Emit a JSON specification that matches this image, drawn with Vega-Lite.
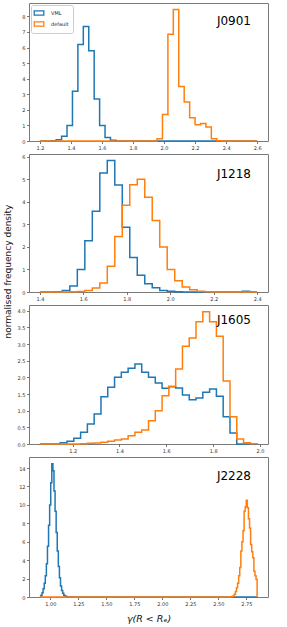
{
  "$schema": "https://vega.github.io/schema/vega-lite/v6.json",
  "padding": {"left": 2, "top": 2, "right": 2, "bottom": 2},
  "background": "white",
  "spacing": 13,
  "bounds": "flush",
  "resolve": {"scale": {"color": "independent", "x": "independent", "y": "independent"}, "legend": {"color": "independent"}},
  "config": {
    "font": "DejaVu Sans",
    "view": {"stroke": "#7a7a7a", "strokeWidth": 1},
    "axis": {"domain": false, "grid": false, "labelFont": "DejaVu Sans", "labelFontSize": 5, "labelColor": "#333333", "tickColor": "#555555", "tickSize": 2.5, "tickWidth": 0.8, "labelPadding": 1.5, "titleFont": "DejaVu Sans", "titleFontWeight": "normal", "titleColor": "#111111"},
    "title": {"font": "DejaVu Sans", "fontWeight": "normal", "fontSize": 12, "color": "#000000", "anchor": "end", "frame": "group", "baseline": "alphabetic", "dx": -17}
  },
  "datasets": {
    "J0901": [
      {"s": "VML", "x": 1.2, "y": 0}, {"s": "VML", "x": 1.27, "y": 0.02}, {"s": "VML", "x": 1.305, "y": 0.08}, {"s": "VML", "x": 1.34, "y": 0.3}, {"s": "VML", "x": 1.375, "y": 1.0}, {"s": "VML", "x": 1.41, "y": 3.2}, {"s": "VML", "x": 1.445, "y": 6.2}, {"s": "VML", "x": 1.48, "y": 7.35}, {"s": "VML", "x": 1.515, "y": 5.8}, {"s": "VML", "x": 1.55, "y": 2.7}, {"s": "VML", "x": 1.585, "y": 1.0}, {"s": "VML", "x": 1.62, "y": 0.22}, {"s": "VML", "x": 1.655, "y": 0.05}, {"s": "VML", "x": 1.69, "y": 0}, {"s": "VML", "x": 2.6, "y": 0},
      {"s": "default", "x": 1.2, "y": 0}, {"s": "default", "x": 1.955, "y": 0.15}, {"s": "default", "x": 1.99, "y": 1.7}, {"s": "default", "x": 2.025, "y": 6.85}, {"s": "default", "x": 2.06, "y": 8.44}, {"s": "default", "x": 2.095, "y": 3.5}, {"s": "default", "x": 2.13, "y": 2.5}, {"s": "default", "x": 2.165, "y": 1.5}, {"s": "default", "x": 2.2, "y": 1.05}, {"s": "default", "x": 2.235, "y": 1.12}, {"s": "default", "x": 2.27, "y": 0.9}, {"s": "default", "x": 2.305, "y": 0.15}, {"s": "default", "x": 2.34, "y": 0.02}, {"s": "default", "x": 2.375, "y": 0}, {"s": "default", "x": 2.6, "y": 0}
    ],
    "J1218": [
      {"s": "VML", "x": 1.4, "y": 0}, {"s": "VML", "x": 1.469, "y": 0.01}, {"s": "VML", "x": 1.5034, "y": 0.07}, {"s": "VML", "x": 1.5379, "y": 0.27}, {"s": "VML", "x": 1.5724, "y": 1.0}, {"s": "VML", "x": 1.6069, "y": 2.27}, {"s": "VML", "x": 1.6414, "y": 3.58}, {"s": "VML", "x": 1.6759, "y": 5.28}, {"s": "VML", "x": 1.7103, "y": 5.83}, {"s": "VML", "x": 1.7448, "y": 4.75}, {"s": "VML", "x": 1.7793, "y": 2.87}, {"s": "VML", "x": 1.8138, "y": 1.53}, {"s": "VML", "x": 1.8483, "y": 0.74}, {"s": "VML", "x": 1.8828, "y": 0.37}, {"s": "VML", "x": 1.9172, "y": 0.19}, {"s": "VML", "x": 1.9517, "y": 0.07}, {"s": "VML", "x": 1.9862, "y": 0.03}, {"s": "VML", "x": 2.0207, "y": 0.01}, {"s": "VML", "x": 2.0552, "y": 0}, {"s": "VML", "x": 2.331, "y": 0.03}, {"s": "VML", "x": 2.3655, "y": 0}, {"s": "VML", "x": 2.4, "y": 0},
      {"s": "default", "x": 1.4, "y": 0}, {"s": "default", "x": 1.5379, "y": 0.01}, {"s": "default", "x": 1.5724, "y": 0.02}, {"s": "default", "x": 1.6069, "y": 0.07}, {"s": "default", "x": 1.6414, "y": 0.18}, {"s": "default", "x": 1.6759, "y": 0.4}, {"s": "default", "x": 1.7103, "y": 1.14}, {"s": "default", "x": 1.7448, "y": 2.46}, {"s": "default", "x": 1.7793, "y": 3.85}, {"s": "default", "x": 1.8138, "y": 4.76}, {"s": "default", "x": 1.8483, "y": 5.0}, {"s": "default", "x": 1.8828, "y": 4.2}, {"s": "default", "x": 1.9172, "y": 3.17}, {"s": "default", "x": 1.9517, "y": 2.0}, {"s": "default", "x": 1.9862, "y": 1.0}, {"s": "default", "x": 2.0207, "y": 0.5}, {"s": "default", "x": 2.0552, "y": 0.22}, {"s": "default", "x": 2.0897, "y": 0.1}, {"s": "default", "x": 2.1241, "y": 0.03}, {"s": "default", "x": 2.1586, "y": 0.01}, {"s": "default", "x": 2.1931, "y": 0}, {"s": "default", "x": 2.4, "y": 0}
    ],
    "J1605": [
      {"s": "VML", "x": 1.06, "y": 0}, {"s": "VML", "x": 1.147, "y": 0.04}, {"s": "VML", "x": 1.176, "y": 0.08}, {"s": "VML", "x": 1.205, "y": 0.17}, {"s": "VML", "x": 1.234, "y": 0.35}, {"s": "VML", "x": 1.263, "y": 0.6}, {"s": "VML", "x": 1.292, "y": 0.9}, {"s": "VML", "x": 1.321, "y": 1.42}, {"s": "VML", "x": 1.35, "y": 1.7}, {"s": "VML", "x": 1.379, "y": 2.0}, {"s": "VML", "x": 1.408, "y": 2.15}, {"s": "VML", "x": 1.437, "y": 2.27}, {"s": "VML", "x": 1.466, "y": 2.4}, {"s": "VML", "x": 1.495, "y": 2.15}, {"s": "VML", "x": 1.524, "y": 2.0}, {"s": "VML", "x": 1.553, "y": 1.83}, {"s": "VML", "x": 1.582, "y": 1.67}, {"s": "VML", "x": 1.611, "y": 1.72}, {"s": "VML", "x": 1.64, "y": 1.68}, {"s": "VML", "x": 1.669, "y": 1.47}, {"s": "VML", "x": 1.698, "y": 1.33}, {"s": "VML", "x": 1.727, "y": 1.38}, {"s": "VML", "x": 1.756, "y": 1.55}, {"s": "VML", "x": 1.785, "y": 1.65}, {"s": "VML", "x": 1.814, "y": 1.43}, {"s": "VML", "x": 1.843, "y": 0.82}, {"s": "VML", "x": 1.872, "y": 0.33}, {"s": "VML", "x": 1.901, "y": 0}, {"s": "VML", "x": 1.988, "y": 0},
      {"s": "default", "x": 1.06, "y": 0}, {"s": "default", "x": 1.234, "y": 0.01}, {"s": "default", "x": 1.263, "y": 0.02}, {"s": "default", "x": 1.292, "y": 0.03}, {"s": "default", "x": 1.321, "y": 0.05}, {"s": "default", "x": 1.35, "y": 0.08}, {"s": "default", "x": 1.379, "y": 0.12}, {"s": "default", "x": 1.408, "y": 0.15}, {"s": "default", "x": 1.437, "y": 0.25}, {"s": "default", "x": 1.466, "y": 0.35}, {"s": "default", "x": 1.495, "y": 0.42}, {"s": "default", "x": 1.524, "y": 0.7}, {"s": "default", "x": 1.553, "y": 1.0}, {"s": "default", "x": 1.582, "y": 1.45}, {"s": "default", "x": 1.611, "y": 1.73}, {"s": "default", "x": 1.64, "y": 2.25}, {"s": "default", "x": 1.669, "y": 2.93}, {"s": "default", "x": 1.698, "y": 3.18}, {"s": "default", "x": 1.727, "y": 3.67}, {"s": "default", "x": 1.756, "y": 3.97}, {"s": "default", "x": 1.785, "y": 3.67}, {"s": "default", "x": 1.814, "y": 3.23}, {"s": "default", "x": 1.843, "y": 1.89}, {"s": "default", "x": 1.872, "y": 0.82}, {"s": "default", "x": 1.901, "y": 0.15}, {"s": "default", "x": 1.93, "y": 0.04}, {"s": "default", "x": 1.959, "y": 0.01}, {"s": "default", "x": 1.988, "y": 0}
    ],
    "J2228": [
      {"s": "VML", "x": 0.907, "y": 0.05}, {"s": "VML", "x": 0.9167, "y": 0.2}, {"s": "VML", "x": 0.9264, "y": 0.45}, {"s": "VML", "x": 0.9361, "y": 0.9}, {"s": "VML", "x": 0.9458, "y": 1.5}, {"s": "VML", "x": 0.9555, "y": 2.3}, {"s": "VML", "x": 0.9652, "y": 3.6}, {"s": "VML", "x": 0.9749, "y": 5.5}, {"s": "VML", "x": 0.9846, "y": 7.8}, {"s": "VML", "x": 0.9943, "y": 10.0}, {"s": "VML", "x": 1.004, "y": 12.4}, {"s": "VML", "x": 1.0137, "y": 14.48}, {"s": "VML", "x": 1.0234, "y": 13.7}, {"s": "VML", "x": 1.0331, "y": 11.5}, {"s": "VML", "x": 1.0428, "y": 9.3}, {"s": "VML", "x": 1.0525, "y": 7.0}, {"s": "VML", "x": 1.0622, "y": 5.0}, {"s": "VML", "x": 1.0719, "y": 3.3}, {"s": "VML", "x": 1.0816, "y": 2.1}, {"s": "VML", "x": 1.0913, "y": 1.2}, {"s": "VML", "x": 1.101, "y": 0.7}, {"s": "VML", "x": 1.1107, "y": 0.4}, {"s": "VML", "x": 1.1204, "y": 0.2}, {"s": "VML", "x": 1.1301, "y": 0.1}, {"s": "VML", "x": 1.1398, "y": 0.05}, {"s": "VML", "x": 1.1495, "y": 0.02}, {"s": "VML", "x": 1.1592, "y": 0}, {"s": "VML", "x": 2.847, "y": 0},
      {"s": "default", "x": 0.907, "y": 0}, {"s": "default", "x": 2.6045, "y": 0.02}, {"s": "default", "x": 2.6142, "y": 0.04}, {"s": "default", "x": 2.6239, "y": 0.07}, {"s": "default", "x": 2.6336, "y": 0.1}, {"s": "default", "x": 2.6433, "y": 0.3}, {"s": "default", "x": 2.653, "y": 0.6}, {"s": "default", "x": 2.6627, "y": 1.0}, {"s": "default", "x": 2.6724, "y": 1.5}, {"s": "default", "x": 2.6821, "y": 2.3}, {"s": "default", "x": 2.6918, "y": 3.2}, {"s": "default", "x": 2.7015, "y": 5.0}, {"s": "default", "x": 2.7112, "y": 6.0}, {"s": "default", "x": 2.7209, "y": 7.2}, {"s": "default", "x": 2.7306, "y": 9.3}, {"s": "default", "x": 2.7403, "y": 9.8}, {"s": "default", "x": 2.75, "y": 10.5}, {"s": "default", "x": 2.7597, "y": 9.7}, {"s": "default", "x": 2.7694, "y": 8.5}, {"s": "default", "x": 2.7791, "y": 7.5}, {"s": "default", "x": 2.7888, "y": 5.7}, {"s": "default", "x": 2.7985, "y": 4.9}, {"s": "default", "x": 2.8082, "y": 4.25}, {"s": "default", "x": 2.8179, "y": 2.8}, {"s": "default", "x": 2.8276, "y": 2.3}, {"s": "default", "x": 2.8373, "y": 1.9}, {"s": "default", "x": 2.847, "y": 0}
    ]
  },
  "vconcat": [
    {
      "width": 239, "height": 138,
      "title": {"text": "J0901", "offset": -25},
      "data": {"name": "J0901"},
      "mark": {"type": "line", "interpolate": "step-after", "strokeWidth": 1.5},
      "encoding": {
        "x": {"field": "x", "type": "quantitative", "scale": {"domain": [1.13, 2.67], "nice": false, "zero": false}, "axis": {"values": [1.2, 1.4, 1.6, 1.8, 2.0, 2.2, 2.4, 2.6], "format": ".1f", "title": null}},
        "y": {"field": "y", "type": "quantitative", "scale": {"domain": [0, 8.86], "nice": false}, "axis": {"values": [0, 1, 2, 3, 4, 5, 6, 7, 8], "format": "d", "title": null}},
        "color": {"field": "s", "type": "nominal", "scale": {"domain": ["VML", "default"], "range": ["#1f77b4", "#ff7f0e"]},
          "legend": {"title": null, "orient": "top-left", "offset": 2, "padding": 4, "fillColor": "white", "strokeColor": "#cccccc", "cornerRadius": 2, "symbolType": "M-1.6,-0.7H1.6V0.7H-1.6Z", "symbolSize": 36, "symbolStrokeWidth": 1.3, "labelFontSize": 5, "labelFont": "DejaVu Sans", "labelOffset": 8, "rowPadding": 1, "labelColor": "#222222"}}
      }
    },
    {
      "width": 239, "height": 138,
      "title": {"text": "J1218", "offset": -27},
      "data": {"name": "J1218"},
      "mark": {"type": "line", "interpolate": "step-after", "strokeWidth": 1.5},
      "encoding": {
        "x": {"field": "x", "type": "quantitative", "scale": {"domain": [1.35, 2.45], "nice": false, "zero": false}, "axis": {"values": [1.4, 1.6, 1.8, 2.0, 2.2, 2.4], "format": ".1f", "title": null}},
        "y": {"field": "y", "type": "quantitative", "scale": {"domain": [0, 6.12], "nice": false}, "axis": {"values": [0, 1, 2, 3, 4, 5, 6], "format": "d", "title": "normalised frequency density", "titleFontSize": 9, "titleX": -17, "titleY": 117, "titleAngle": 270, "titleBaseline": "bottom", "titleAlign": "center"}},
        "color": {"field": "s", "type": "nominal", "scale": {"domain": ["VML", "default"], "range": ["#1f77b4", "#ff7f0e"]}, "legend": null}
      }
    },
    {
      "width": 239, "height": 139,
      "title": {"text": "J1605", "offset": -22},
      "data": {"name": "J1605"},
      "mark": {"type": "line", "interpolate": "step-after", "strokeWidth": 1.5},
      "encoding": {
        "x": {"field": "x", "type": "quantitative", "scale": {"domain": [1.0136, 2.0344], "nice": false, "zero": false}, "axis": {"values": [1.2, 1.4, 1.6, 1.8, 2.0], "format": ".1f", "title": null}},
        "y": {"field": "y", "type": "quantitative", "scale": {"domain": [0, 4.17], "nice": false}, "axis": {"values": [0, 0.5, 1, 1.5, 2, 2.5, 3, 3.5, 4], "format": ".1f", "title": null}},
        "color": {"field": "s", "type": "nominal", "scale": {"domain": ["VML", "default"], "range": ["#1f77b4", "#ff7f0e"]}, "legend": null}
      }
    },
    {
      "width": 239, "height": 140,
      "title": {"text": "J2228", "offset": -26},
      "data": {"name": "J2228"},
      "mark": {"type": "line", "interpolate": "step-after", "strokeWidth": 1.5},
      "encoding": {
        "x": {"field": "x", "type": "quantitative", "scale": {"domain": [0.81, 2.944], "nice": false, "zero": false}, "axis": {"values": [1.0, 1.25, 1.5, 1.75, 2.0, 2.25, 2.5, 2.75], "format": ".2f", "title": "γ(R < Rₑ)", "titleFontSize": 9.5, "titleFontStyle": "italic", "titlePadding": 7}},
        "y": {"field": "y", "type": "quantitative", "scale": {"domain": [0, 15.2], "nice": false}, "axis": {"values": [0, 2, 4, 6, 8, 10, 12, 14], "format": "d", "title": null}},
        "color": {"field": "s", "type": "nominal", "scale": {"domain": ["VML", "default"], "range": ["#1f77b4", "#ff7f0e"]}, "legend": null}
      }
    }
  ]
}
